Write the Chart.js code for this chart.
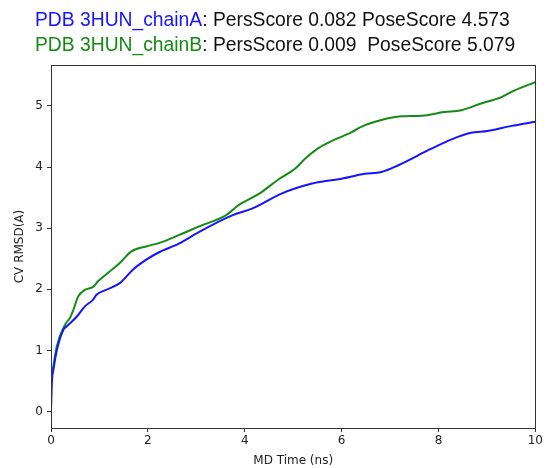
<!DOCTYPE html>
<html>
<head>
<meta charset="utf-8">
<script src="https://cdn.jsdelivr.net/npm/chart.js@4"></script>
<style>
  html, body { margin: 0; padding: 0; background: #fff; }
  #wrap { position: relative; width: 545px; height: 468px; }
  #title { position: absolute; left: 35px; top: 7px; font-family: Arial, "Liberation Sans", sans-serif;
           font-size: 19.3px; line-height: 25px; color: #111; white-space: pre; }
  .a { color: #1414ff; }
  .b { color: #168a16; }
</style>
</head>
<body>
<div id="wrap">
  <canvas id="myChart" width="545" height="468"></canvas>
  <div id="title"><span class="a">PDB 3HUN_chainA</span>: PersScore 0.082 PoseScore 4.573
<span class="b">PDB 3HUN_chainB</span>: PersScore 0.009  PoseScore 5.079</div>
</div>
<script>
// values
const time_A = [0, 0.02, 0.05, 0.12, 0.25, 0.32, 0.53, 0.70, 0.87, 0.94, 1.14, 1.42, 1.69, 1.96, 2.24, 2.65, 3.06,
                3.74, 4.15, 4.77, 5.39, 5.66, 5.93, 6.48, 6.82, 7.17, 7.85, 8.26, 8.67, 9.01, 9.49, 10];
const rmsd_A = [0, 0.5, 0.68, 1.0, 1.33, 1.39, 1.55, 1.72, 1.83, 1.91, 1.99, 2.10, 2.32, 2.48, 2.61, 2.75, 2.94,
                3.21, 3.32, 3.57, 3.73, 3.77, 3.80, 3.89, 3.92, 4.03, 4.30, 4.45, 4.56, 4.59, 4.67, 4.74];

const time_B = [0, 0.05, 0.12, 0.29, 0.39, 0.46, 0.56, 0.70, 0.87, 0.97, 1.21, 1.42, 1.66, 1.96, 2.24, 2.65, 3.06,
                3.61, 3.88, 4.29, 4.70, 5.05, 5.25, 5.52, 5.80, 6.21, 6.38, 6.82, 7.23, 7.65, 8.12, 8.47, 8.88,
                9.29, 9.56, 10];
const rmsd_B = [0.5, 0.75, 1.07, 1.42, 1.53, 1.66, 1.88, 1.99, 2.04, 2.13, 2.29, 2.43, 2.62, 2.70, 2.76, 2.89, 3.03,
                3.21, 3.38, 3.56, 3.80, 3.98, 4.14, 4.31, 4.43, 4.57, 4.65, 4.77, 4.83, 4.84, 4.90, 4.93, 5.04,
                5.14, 5.25, 5.39];

const xTicks = [0, 2, 4, 6, 8, 10];
const yTicks = [0, 1, 2, 3, 4, 5];

function toPoints(xs, ys) {
    return xs.map((x, i) => ({x: x, y: ys[i]}));
}

const axisColor = '#333333';
const tickFont = {family: 'DejaVu Sans', size: 12};

// matplotlib style box round the plot
const frame = {
    id: 'frame',
    afterDraw(chart) {
        const a = chart.chartArea;
        const ctx = chart.ctx;
        ctx.save();
        ctx.strokeStyle = axisColor;
        ctx.lineWidth = 1;
        ctx.strokeRect(Math.round(a.left) + 0.5, Math.round(a.top) + 0.5,
                       Math.round(a.right - a.left), Math.round(a.bottom - a.top));
        ctx.restore();
    }
};

const ctx = document.getElementById('myChart').getContext('2d');
new Chart(ctx, {
    type: 'line',
    data: {
        datasets: [
            {
                label: 'chainA',
                data: toPoints(time_A, rmsd_A),
                borderColor: '#1414ff',
                borderWidth: 2,
                pointRadius: 0,
                cubicInterpolationMode: 'monotone'
            },
            {
                label: 'chainB',
                data: toPoints(time_B, rmsd_B),
                borderColor: '#168a16',
                borderWidth: 2,
                pointRadius: 0,
                cubicInterpolationMode: 'monotone'
            }
        ]
    },
    options: {
        responsive: false,
        animation: false,
        layout: { padding: { top: 65, right: 7, left: 0, bottom: 0 } },
        plugins: {
            legend: { display: false },
            tooltip: { enabled: false }
        },
        scales: {
            x: {
                type: 'linear',
                min: 0,
                max: 10,
                afterBuildTicks: s => { s.ticks = xTicks.map(v => ({value: v})); },
                afterFit: s => { s.height = 40; },
                grid: { drawOnChartArea: false, tickLength: 4, color: axisColor },
                border: { color: axisColor },
                ticks: { color: '#222', font: tickFont, padding: 2, maxRotation: 0 },
                title: { display: true, text: 'MD Time (ns)', color: '#222', font: tickFont, padding: { top: 4, bottom: 0 } }
            },
            y: {
                type: 'linear',
                min: -0.27,
                max: 5.67,
                afterBuildTicks: s => { s.ticks = yTicks.map(v => ({value: v})); },
                afterFit: s => { s.width = 51; },
                grid: { drawOnChartArea: false, tickLength: 4, color: axisColor },
                border: { color: axisColor },
                ticks: { color: '#222', font: tickFont, padding: 4 },
                title: { display: true, text: 'CV RMSD(A)', color: '#222', font: tickFont, padding: { top: 13, bottom: 0 } }
            }
        }
    },
    plugins: [frame]
});
</script>
</body>
</html>
